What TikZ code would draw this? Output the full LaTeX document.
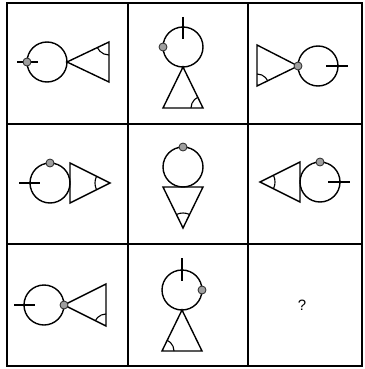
\documentclass[tikz,border=0pt]{standalone}
\usepackage{fontspec}
\setmainfont{Liberation Sans}
\begin{document}
\begin{tikzpicture}[x=1pt,y=-1pt,
  fig/.style={line width=1.4pt, line join=miter},
  gridline/.style={line width=1.6pt},
  knob/.style={fill=gray!75, draw=black!85, line width=0.8pt},
  anglemark/.style={line width=1.1pt}]
\useasboundingbox (0,0) rectangle (364,369);
% grid
\draw[gridline] (7,3) rectangle (362,366);
\draw[gridline] (128,3) -- (128,366);
\draw[gridline] (248,3) -- (248,366);
\draw[gridline] (7,124) -- (362,124);
\draw[gridline] (7,244) -- (362,244);

% cell 1
\draw[fig] (47,62) circle (20);
\draw[fig] (67,62) -- (109,42) -- (109,82) -- cycle;
\begin{scope}\clip (67,62) -- (109,42) -- (109,82) -- cycle;
\draw[anglemark] (109,42) circle (13);\end{scope}
\draw[fig] (17,62) -- (38,62);
\draw[knob] (27,62) circle (4);

% cell 2
\draw[fig] (183,47) circle (20);
\draw[fig] (183,67) -- (163,108) -- (203,108) -- cycle;
\begin{scope}\clip (183,67) -- (163,108) -- (203,108) -- cycle;
\draw[anglemark] (203,108) circle (12);\end{scope}
\draw[fig] (183,17) -- (183,39);
\draw[knob] (163,47) circle (4);

% cell 3
\draw[fig] (318,66) circle (20);
\draw[fig] (298,66) -- (257,45) -- (257,86) -- cycle;
\begin{scope}\clip (298,66) -- (257,45) -- (257,86) -- cycle;
\draw[anglemark] (257,86) circle (12);\end{scope}
\draw[fig] (326,66) -- (348,66);
\draw[knob] (298,66) circle (4);

% cell 4
\draw[fig] (50,183) circle (20);
\draw[fig] (70,163) -- (110,183) -- (70,203) -- cycle;
\begin{scope}\clip (70,163) -- (110,183) -- (70,203) -- cycle;
\draw[anglemark] (110,183) circle (15);\end{scope}
\draw[fig] (19,183) -- (40,183);
\draw[knob] (50,163) circle (4);

% cell 5
\draw[fig] (183,167) circle (20);
\draw[fig] (163,187) -- (203,187) -- (183,228) -- cycle;
\begin{scope}\clip (163,187) -- (203,187) -- (183,228) -- cycle;
\draw[anglemark] (183,228) circle (15);\end{scope}
\draw[knob] (183,147) circle (4);

% cell 6
\draw[fig] (320,182) circle (20);
\draw[fig] (300,162) -- (260,182) -- (300,202) -- cycle;
\begin{scope}\clip (300,162) -- (260,182) -- (300,202) -- cycle;
\draw[anglemark] (260,182) circle (15);\end{scope}
\draw[fig] (328,182) -- (350,182);
\draw[knob] (320,162) circle (4);

% cell 7
\draw[fig] (44,305) circle (20);
\draw[fig] (64,305) -- (106,284) -- (106,326) -- cycle;
\begin{scope}\clip (64,305) -- (106,284) -- (106,326) -- cycle;
\draw[anglemark] (106,326) circle (12);\end{scope}
\draw[fig] (14,305) -- (35,305);
\draw[knob] (64,305) circle (4);

% cell 8
\draw[fig] (182,290) circle (20);
\draw[fig] (182,310) -- (162,351) -- (202,351) -- cycle;
\begin{scope}\clip (182,310) -- (162,351) -- (202,351) -- cycle;
\draw[anglemark] (162,351) circle (12);\end{scope}
\draw[fig] (182,258) -- (182,281);
\draw[knob] (202,290) circle (4);

% cell 9
\node[font=\fontsize{15}{18}\selectfont] (q) at (302,305) {?};
\end{tikzpicture}
\end{document}
